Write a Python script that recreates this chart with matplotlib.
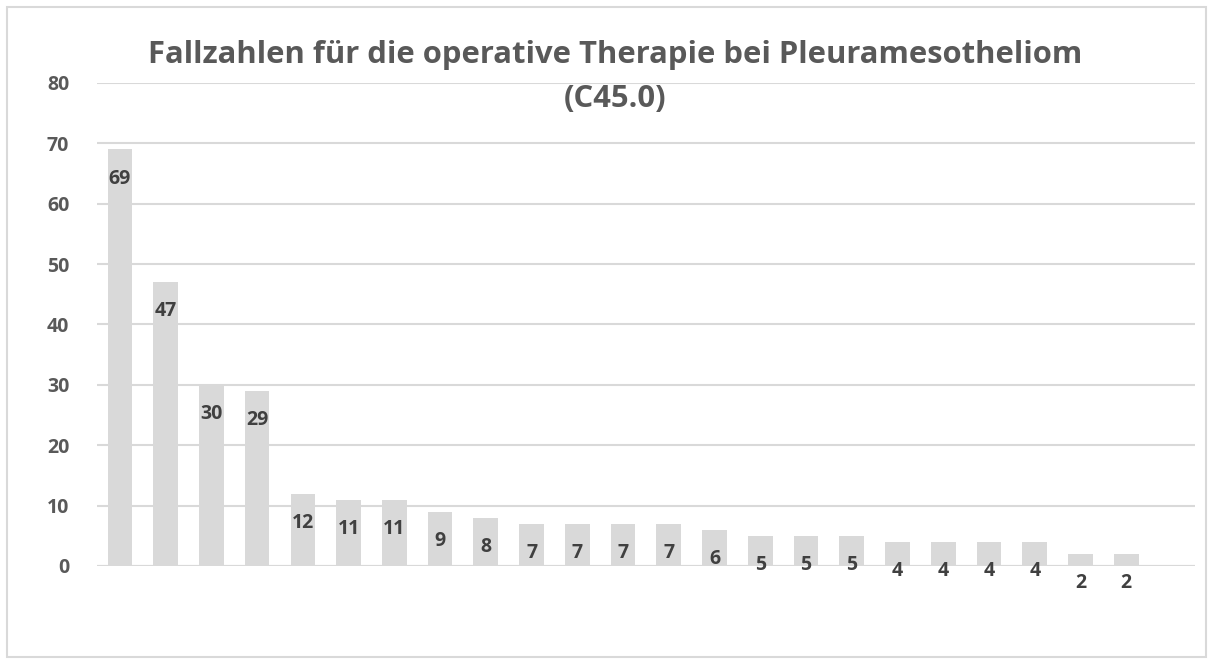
import matplotlib.pyplot as plt
import matplotlib.patches as mpatches

# data
values = [69, 47, 30, 29, 12, 11, 11, 9, 8, 7, 7, 7, 7, 6, 5, 5, 5, 4, 4, 4, 4, 2, 2]
n_slots = 24
yticks = [0, 10, 20, 30, 40, 50, 60, 70, 80]
title = 'Fallzahlen für die operative Therapie bei Pleuramesotheliom\n(C45.0)'

plt.rcParams['font.family'] = ['Open Sans', 'DejaVu Sans']

fig = plt.figure(figsize=(12.13, 6.64), dpi=100)
ax = fig.add_axes([0.080, 0.1476, 0.905, 0.7274])

x = list(range(len(values)))
ax.bar(x, values, width=0.54, color='#d9d9d9', zorder=2)
for xi, v in zip(x, values):
    ax.annotate(str(v), (xi, v), xytext=(0, -21), textcoords='offset points',
                ha='center', va='center', fontsize=14, fontweight='bold',
                color='#404040', annotation_clip=False)

ax.set_xlim(-0.5, n_slots - 0.5)
ax.set_ylim(0, 80)
ax.set_yticks(yticks)
ax.set_yticklabels([str(t) for t in yticks], fontsize=14, fontweight='bold', color='#595959')
ax.set_xticks([])
ax.tick_params(axis='y', length=0, pad=20)
ax.grid(axis='y', color='#d9d9d9', linewidth=1.5, zorder=0)
for s in ax.spines.values():
    s.set_visible(False)
ax.axhline(0, color='#d9d9d9', linewidth=1.5, zorder=1)

fig.text(0.507, 0.94, title, ha='center', va='top', fontsize=22.3,
         fontweight='bold', color='#595959', linespacing=1.6)

fig.patches.append(mpatches.Rectangle((0.006, 0.01), 0.988, 0.98, transform=fig.transFigure,
                                      fill=False, edgecolor='#d9d9d9', linewidth=1.5))

fig.savefig('out.png', dpi=100)
